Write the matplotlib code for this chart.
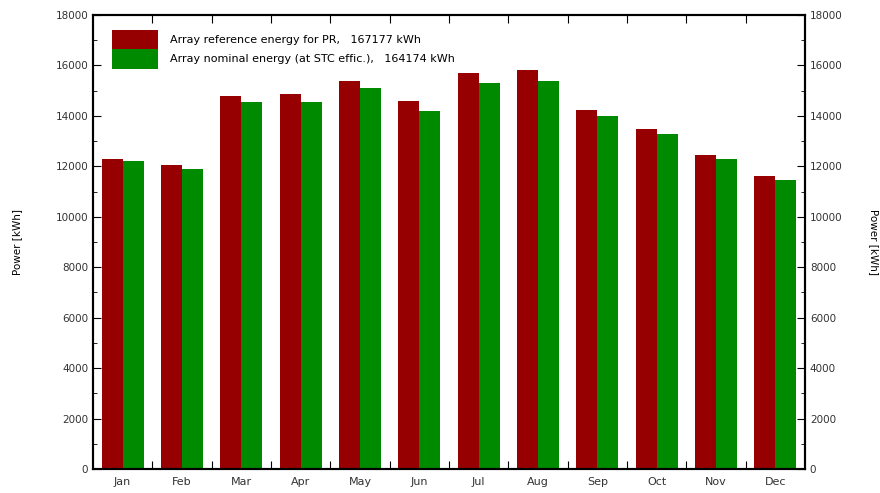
import numpy as np
import matplotlib
matplotlib.use("Agg")
import matplotlib.pyplot as plt
from matplotlib.patches import Patch
from matplotlib.ticker import MultipleLocator

months = ["Jan", "Feb", "Mar", "Apr", "May", "Jun",
          "Jul", "Aug", "Sep", "Oct", "Nov", "Dec"]
reference_energy = [12300, 12050, 14800, 14850, 15400, 14600,
                    15700, 15800, 14250, 13500, 12450, 11600]
nominal_energy = [12200, 11900, 14550, 14550, 15100, 14200,
                  15300, 15400, 14000, 13300, 12300, 11450]
ref_label = "Array reference energy for PR,   167177 kWh"
nom_label = "Array nominal energy (at STC effic.),   164174 kWh"
ylabel = "Power [kWh]"

RED = "#960000"
GREEN = "#008a00"

fig = plt.figure(figsize=(8.8, 4.93), dpi=100)
ax = fig.add_axes([93 / 880, 24 / 493, 712 / 880, 454 / 493])

x = np.arange(len(months))
w = 0.355
ax.bar(x - w / 2, reference_energy, w, color=RED)
ax.bar(x + w / 2, nominal_energy, w, color=GREEN)

ax.set_xlim(-0.5, len(months) - 0.5)
ax.set_ylim(0, 18000)
ax.set_xticks(x)
ax.set_xticklabels(months, fontsize=8, color="#333333")
ax.set_xticks(x[:-1] + 0.5, minor=True)
ax.tick_params(axis="x", which="major", length=0, pad=6)
ax.tick_params(axis="x", which="minor", direction="in", length=6,
               top=True, bottom=True, width=0.8)

ax2 = ax.twinx()
ax2.set_ylim(ax.get_ylim())
for a in (ax, ax2):
    a.yaxis.set_major_locator(MultipleLocator(2000))
    a.yaxis.set_minor_locator(MultipleLocator(1000))
    a.tick_params(axis="y", which="both", direction="in", labelsize=7.5,
                  labelcolor="#333333")
    a.tick_params(axis="y", which="major", length=6)
    a.tick_params(axis="y", which="minor", length=3)
    for s in a.spines.values():
        s.set_linewidth(1.5)
ax.set_ylabel(ylabel, fontsize=7.5, labelpad=24)
ax2.set_ylabel(ylabel, fontsize=7.5, rotation=270, labelpad=26)

handles = [Patch(facecolor=RED), Patch(facecolor=GREEN)]
leg = ax.legend(handles, [ref_label, nom_label], loc="upper left",
                bbox_to_anchor=(0.012, 0.99), frameon=False, fontsize=8,
                handlelength=4.2, handleheight=2.4, labelspacing=-0.05,
                handletextpad=1.1, borderaxespad=0.5)

fig.savefig("out.png", dpi=100)
